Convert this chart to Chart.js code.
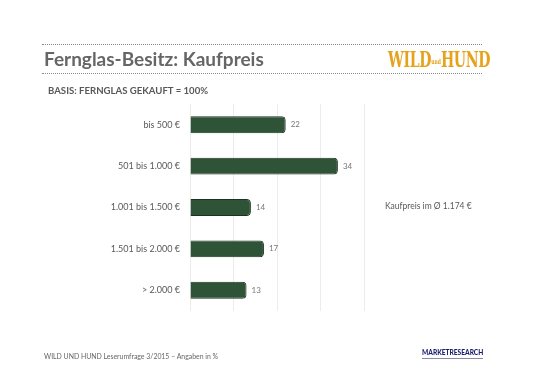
<!DOCTYPE html>
<html>
<head>
<meta charset="utf-8">
<script src="https://cdn.jsdelivr.net/npm/chart.js@4/dist/chart.umd.min.js"></script>
<style>
  html, body { margin: 0; padding: 0; background: #ffffff; }
  #wrap { position: relative; width: 541px; height: 380px; overflow: hidden; font-family: Lato, "Liberation Sans", sans-serif; }
  #c { position: absolute; left: 0; top: 0; }
  .dots { position: absolute; left: 42px; width: 440px; height: 0; border-top: 1px dotted #8a8a8a; }
  #title { position: absolute; left: 44px; top: 47px; font-size: 19px; font-weight: bold; color: #666666; white-space: nowrap; }
  #sub { position: absolute; left: 48px; top: 85px; font-size: 9.6px; font-weight: bold; color: #595959; white-space: nowrap; }
  #logo { position: absolute; left: 388px; top: 46px; font-family: "DejaVu Serif", "Liberation Serif", serif; font-weight: bold; color: #e5a21a; font-size: 22px; white-space: nowrap; letter-spacing: -0.5px; transform: scaleX(0.64); transform-origin: left top; }
  #logo small { font-size: 7px; vertical-align: middle; letter-spacing: 0; }
  #avg { position: absolute; left: 385px; top: 201px; font-size: 8.5px; color: #595959; white-space: nowrap; }
  #foot { position: absolute; left: 44px; top: 352px; font-size: 6.9px; color: #666666; white-space: nowrap; }
  #mr { position: absolute; left: 422px; top: 348px; font-size: 6.6px; font-weight: 900; color: #1c1f6b; white-space: nowrap; }
  #mrline { position: absolute; left: 422px; top: 358px; width: 61px; height: 1px; background: #8a8aa8; }
</style>
</head>
<body>
<div id="wrap">
  <canvas id="c" width="541" height="380"></canvas>
  <div class="dots" style="top:44px"></div>
  <div class="dots" style="top:73px"></div>
  <div id="title">Fernglas-Besitz: Kaufpreis</div>
  <div id="logo">WILD<small>und</small>HUND</div>
  <div id="sub">BASIS: FERNGLAS GEKAUFT = 100%</div>
  <div id="avg">Kaufpreis im Ø 1.174 €</div>
  <div id="foot">WILD UND HUND Leserumfrage 3/2015 – Angaben in %</div>
  <div id="mr">MARKETRESEARCH</div>
  <div id="mrline"></div>
</div>
<script>
const categories = ["bis 500 €", "501 bis 1.000 €", "1.001 bis 1.500 €", "1.501 bis 2.000 €", "> 2.000 €"];
const values = [22, 34, 14, 17, 13];
const xTicks = [0, 10, 20, 30, 40];

const valueLabels = {
  id: 'valueLabels',
  afterDatasetsDraw(chart) {
    const ctx = chart.ctx;
    const meta = chart.getDatasetMeta(0);
    ctx.save();
    ctx.font = '8px Lato, "Liberation Sans", sans-serif';
    ctx.fillStyle = '#777777';
    ctx.textBaseline = 'middle';
    ctx.textAlign = 'left';
    meta.data.forEach((bar, i) => {
      ctx.fillText(String(values[i]), bar.x + 5, bar.y);
    });
    ctx.restore();
  }
};

new Chart(document.getElementById('c'), {
  type: 'bar',
  data: {
    labels: categories,
    datasets: [{
      data: values,
      backgroundColor: '#2f5336',
      borderColor: '#1c3320',
      borderWidth: 1,
      borderRadius: 4,
      borderSkipped: 'start',
      barPercentage: 0.8,
      categoryPercentage: 0.51
    }]
  },
  options: {
    indexAxis: 'y',
    responsive: false,
    animation: false,
    devicePixelRatio: 1,
    layout: { padding: { left: 0, right: 177, top: 104, bottom: 69 } },
    plugins: { legend: { display: false }, tooltip: { enabled: false } },
    scales: {
      x: {
        min: 0, max: 40,
        afterBuildTicks(scale) { scale.ticks = xTicks.map(v => ({ value: v })); },
        afterFit(scale) { scale.height = 0; },
        ticks: { display: false },
        border: { display: false },
        grid: { color: '#ececec', lineWidth: 1, drawTicks: false }
      },
      y: {
        afterFit(scale) { scale.width = 190; },
        ticks: { color: '#595959', font: { family: 'Lato, "Liberation Sans", sans-serif', size: 9 }, padding: 10 },
        border: { display: false },
        grid: { display: false, drawTicks: false }
      }
    }
  },
  plugins: [valueLabels]
});
</script>
</body>
</html>
